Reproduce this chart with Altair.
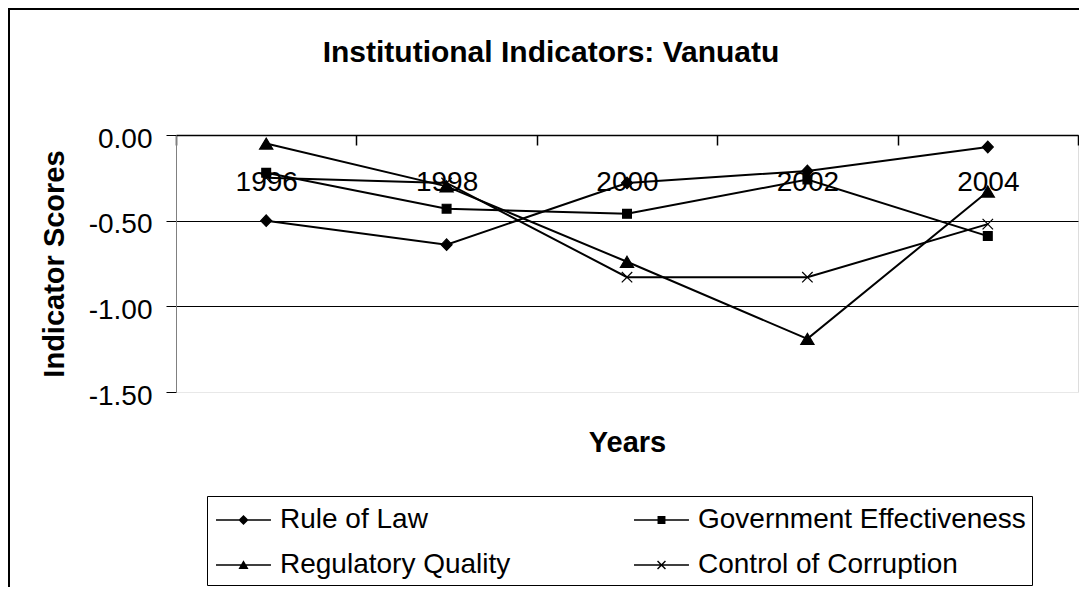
import altair as alt
import pandas as pd

years = ["1996", "1998", "2000", "2002", "2004"]
series_names = ["Rule of Law", "Government Effectiveness", "Regulatory Quality", "Control of Corruption"]
rule_of_law = [-0.50, -0.64, -0.28, -0.21, -0.07]
gov_effectiveness = [-0.22, -0.43, -0.46, -0.26, -0.59]
regulatory_quality = [-0.05, -0.30, -0.74, -1.19, -0.33]
control_of_corruption = [-0.25, -0.28, -0.83, -0.83, -0.52]
y_ticks = [0.0, -0.5, -1.0, -1.5]
legend_order = ["Rule of Law", "Regulatory Quality", "Government Effectiveness", "Control of Corruption"]

rows = []
for name, vals in zip(series_names, [rule_of_law, gov_effectiveness, regulatory_quality, control_of_corruption]):
    for yr, v in zip(years, vals):
        rows.append({"year": yr, "value": v, "series": name})
df = pd.DataFrame(rows)

FONT = "Liberation Sans"

# marker paths for plot points (same order as series_names)
plot_shapes = [
    "M0,-1.05L1,0L0,1.05L-1,0Z",
    "M-0.8,-0.8H0.8V0.8H-0.8Z",
    "M0,-1L1.2,1H-1.2Z",
    "M-0.95,-0.95L0.95,0.95M-0.95,0.95L0.95,-0.95",
]
# legend symbols (filled paths): line through marker, order of legend_order
LINE = "M-0.833,-0.042H2.22V0.042H-0.833Z"
legend_shapes = [
    LINE + "M0.694,-0.28L0.974,0L0.694,0.28L0.414,0Z",
    LINE + "M0.694,-0.26L0.974,0.22H0.414Z",
    LINE + "M0.474,-0.22H0.914V0.22H0.474Z",
    LINE + "M0.502,-0.248L0.942,0.192L0.886,0.248L0.446,-0.192Z"
         + "M0.446,0.192L0.886,-0.248L0.942,-0.192L0.502,0.248Z",
]

W, H = 902, 257

x_enc = alt.X(
    "year:O",
    sort=years,
    scale=alt.Scale(type="band", paddingInner=0, paddingOuter=0),
    bandPosition=0.5,
    axis=alt.Axis(
        orient="bottom", offset=-H, tickBand="extent", tickSize=10,
        tickColor="black", domainColor="black", domainWidth=1.5, tickWidth=1.5,
        labelAngle=0, labelFontSize=28, labelFont=FONT, labelColor="black",
        labelPadding=45, labelBaseline="alphabetic", grid=False,
        title="Years", titleFont=FONT, titleFontSize=29, titleFontWeight="bold",
        titleColor="black", titleY=316, titleBaseline="alphabetic",
    ),
)
y_enc = alt.Y(
    "value:Q",
    scale=alt.Scale(domain=[-1.5, 0], nice=False, zero=False),
    axis=alt.Axis(
        values=y_ticks, tickSize=10, tickColor="black", domainColor="#808080",
        grid=True,
        gridColor={"condition": {"test": "datum.value < -1.4", "value": "#e8e8e8"}, "value": "black"},
        labelExpr="replace(format(datum.value, '.2f'), '\u2212', '-')",
        labelFontSize=28, labelFont=FONT, labelColor="black", labelPadding=14,
        labelOffset=4,
        title="Indicator Scores", titleFont=FONT, titleFontSize=29, titleFontWeight="bold",
        titleColor="black", titleX=-113, titleY=H / 2, titleBaseline="alphabetic", titleAngle=270,
    ),
)

base = alt.Chart(df)

lines = base.mark_line(color="black", strokeWidth=2).encode(
    x=x_enc, y=y_enc, detail="series:N"
)

points = base.mark_point(fill="black", stroke="black", strokeWidth=1.2, opacity=1, size=121).encode(
    x=x_enc, y=y_enc,
    shape=alt.Shape("series:N", scale=alt.Scale(domain=series_names, range=plot_shapes), legend=None),
)

legend_layer = base.transform_filter("false").mark_point(
    fill="black", stroke="black", opacity=1
).encode(
    shape=alt.Shape(
        "series:N",
        scale=alt.Scale(domain=legend_order, range=legend_shapes),
        legend=alt.Legend(
            title=None, orient="none", legendX=31, legendY=361, columns=2,
            columnPadding=120, rowPadding=13, strokeColor="black", padding=6,
            labelFont=FONT, labelFontSize=28, labelColor="black", labelOffset=31,
            symbolSize=1296, symbolStrokeWidth=0, symbolFillColor="black",
            symbolOpacity=1, labelLimit=600,
        ),
    )
)

frame_df = pd.DataFrame({"k": [0]})
frame_top = alt.Chart(frame_df).mark_rule(color="black", strokeWidth=2).encode(
    x=alt.value(-168), x2=alt.value(W + 3), y=alt.value(-126)
)
frame_left = alt.Chart(frame_df).mark_rule(color="black", strokeWidth=2).encode(
    x=alt.value(-167), y=alt.value(-127), y2=alt.value(H + 200)
)

chart = alt.layer(frame_top, frame_left, lines, points, legend_layer).resolve_scale(
    shape="independent"
).properties(
    width=W, height=H,
    title=alt.TitleParams(
        "Institutional Indicators: Vanuatu", font=FONT, fontSize=30, fontWeight="bold",
        color="black", anchor="middle", frame="group", baseline="alphabetic", offset=0, dy=85, dx=-76,
    ),
    autosize=alt.AutoSizeParams(type="none"),
    padding={"left": 168, "top": 127, "right": 1, "bottom": 195},
).configure_view(stroke="transparent").configure(background="white")

chart.save("out.html", embed_options={"renderer": "svg", "actions": False})
